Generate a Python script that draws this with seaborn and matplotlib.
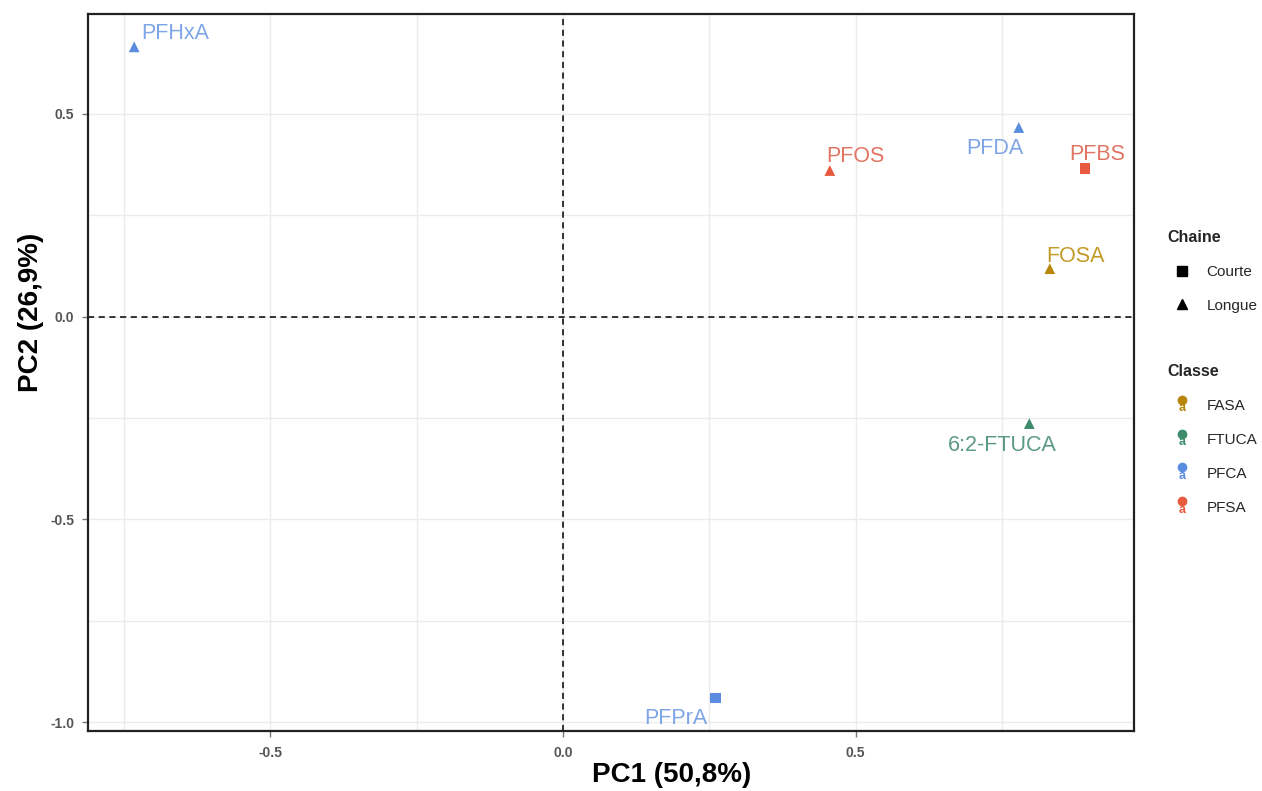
import matplotlib
matplotlib.use("Agg")
import matplotlib.pyplot as plt
import seaborn as sns
import pandas as pd
from matplotlib.lines import Line2D
from matplotlib.text import Text
from matplotlib.legend_handler import HandlerBase
from matplotlib.ticker import MultipleLocator

# ---- data ----
compounds = ["PFHxA", "PFDA", "PFBS", "PFOS", "FOSA", "6:2-FTUCA", "PFPrA"]
pc1 = [-0.733, 0.779, 0.892, 0.456, 0.832, 0.797, 0.260]
pc2 = [0.665, 0.466, 0.365, 0.360, 0.118, -0.264, -0.941]
chaine = ["Longue", "Longue", "Courte", "Longue", "Longue", "Longue", "Courte"]
classe = ["PFCA", "PFCA", "PFSA", "PFSA", "FASA", "FTUCA", "PFCA"]
classe_levels = ["FASA", "FTUCA", "PFCA", "PFSA"]
chaine_levels = ["Courte", "Longue"]

# ---- style ----
palette = {"FASA": "#B8860B", "FTUCA": "#3E8B6C", "PFCA": "#5A8DE0", "PFSA": "#E85A3F"}
label_colors = {"FASA": "#C29A28", "FTUCA": "#5C9A82", "PFCA": "#7EA5E6", "PFSA": "#E07563"}
markers = {"Courte": "s", "Longue": "^"}
# label offsets in pixels (dx right, dy up) relative to the point
offsets = {"PFHxA": (41, 13), "PFDA": (-24, -21), "PFBS": (12, 14), "PFOS": (26, 14),
           "FOSA": (26, 12), "6:2-FTUCA": (-27, -22), "PFPrA": (-39, -20)}

sns.set_theme(style="white")
plt.rcParams["font.family"] = ["Liberation Sans", "DejaVu Sans"]

df = pd.DataFrame({"compound": compounds, "PC1": pc1, "PC2": pc2,
                   "Chaine": chaine, "Classe": classe})

fig = plt.figure(figsize=(12.62, 7.91), dpi=100)
ax = fig.add_axes([0.0697, 0.0759, 0.8289, 0.9064])

ax.xaxis.set_major_locator(MultipleLocator(0.5))
ax.xaxis.set_minor_locator(MultipleLocator(0.25))
ax.yaxis.set_major_locator(MultipleLocator(0.5))
ax.yaxis.set_minor_locator(MultipleLocator(0.25))
ax.grid(True, which="both", color="#EBEBEB", linewidth=1.0)
ax.set_axisbelow(True)

ax.axvline(0, color="black", linestyle=(0, (4, 3)), linewidth=1.1, zorder=1)
ax.axhline(0, color="black", linestyle=(0, (4, 3)), linewidth=1.1, zorder=1)

sns.scatterplot(data=df, x="PC1", y="PC2", hue="Classe", style="Chaine",
                hue_order=classe_levels, style_order=chaine_levels,
                palette=palette, markers=markers, s=60, edgecolor="none",
                legend=False, ax=ax, zorder=3)

px2pt = 72 / 100
for name, x, y, c in zip(compounds, pc1, pc2, classe):
    dx, dy = offsets[name]
    ax.annotate(name, (x, y), xytext=(dx * px2pt, dy * px2pt), textcoords="offset points",
                ha="center", va="center", fontsize=15.5, color=label_colors[c], zorder=4)

ax.set_xlim(-0.812, 0.976)
ax.set_ylim(-1.022, 0.746)

for sp in ax.spines.values():
    sp.set_color("#222222")
    sp.set_linewidth(1.6)

ax.set_xticks([-0.5, 0.0, 0.5])
ax.set_xticklabels(["-0.5", "0.0", "0.5"], fontweight="bold")
ax.set_yticks([-1.0, -0.5, 0.0, 0.5])
ax.set_yticklabels(["-1.0", "-0.5", "0.0", "0.5"], fontweight="bold")
ax.tick_params(axis="both", which="major", length=4, width=1, color="#777777",
               labelsize=10, labelcolor="#555555", bottom=True, left=True)
ax.tick_params(axis="both", which="minor", length=0)
ax.tick_params(axis="x", pad=7)
ax.tick_params(axis="y", pad=6)

ax.set_xlabel("PC1 (50,8%)", fontsize=20, fontweight="bold", color="black")
ax.set_ylabel("PC2 (26,9%)", fontsize=20, fontweight="bold", color="black")
ax.xaxis.set_label_coords(0.558, -0.043)
ax.yaxis.set_label_coords(-0.042, 0.584)


class HandlerPointA(HandlerBase):
    def create_artists(self, legend, orig_handle, xdescent, ydescent, width, height,
                       fontsize, trans):
        col = orig_handle.get_color()
        cx = width / 2 - xdescent
        dot = Line2D([cx], [height * 1.0], marker="o", color=col, markersize=6,
                     linestyle="")
        dot.set_transform(trans)
        txt = Text(cx, -height * 0.35, "a", color=col, fontsize=9, ha="center",
                   va="bottom", fontweight="bold")
        txt.set_transform(trans)
        return [dot, txt]


shape_handles = [Line2D([], [], marker=markers[k], color="black", linestyle="",
                        markersize=7) for k in chaine_levels]
leg1 = fig.legend(shape_handles, chaine_levels, title="Chaine", loc="upper left",
                  bbox_to_anchor=(0.921, 0.715), frameon=False, fontsize=11,
                  title_fontproperties={"weight": "bold", "size": 11.5},
                  handletextpad=0.6, labelspacing=1.3, handlelength=2.0,
                  borderaxespad=0, borderpad=0.3)
leg1._legend_box.align = "left"

class_handles = [Line2D([], [], color=palette[k]) for k in classe_levels]
leg2 = fig.legend(class_handles, classe_levels, title="Classe", loc="upper left",
                  bbox_to_anchor=(0.921, 0.545), frameon=False, fontsize=11,
                  title_fontproperties={"weight": "bold", "size": 11.5},
                  handler_map={Line2D: HandlerPointA()},
                  handletextpad=0.6, labelspacing=1.3, handlelength=2.0,
                  borderaxespad=0, borderpad=0.3)
leg2._legend_box.align = "left"

fig.savefig("out.png", dpi=100, facecolor="white")
